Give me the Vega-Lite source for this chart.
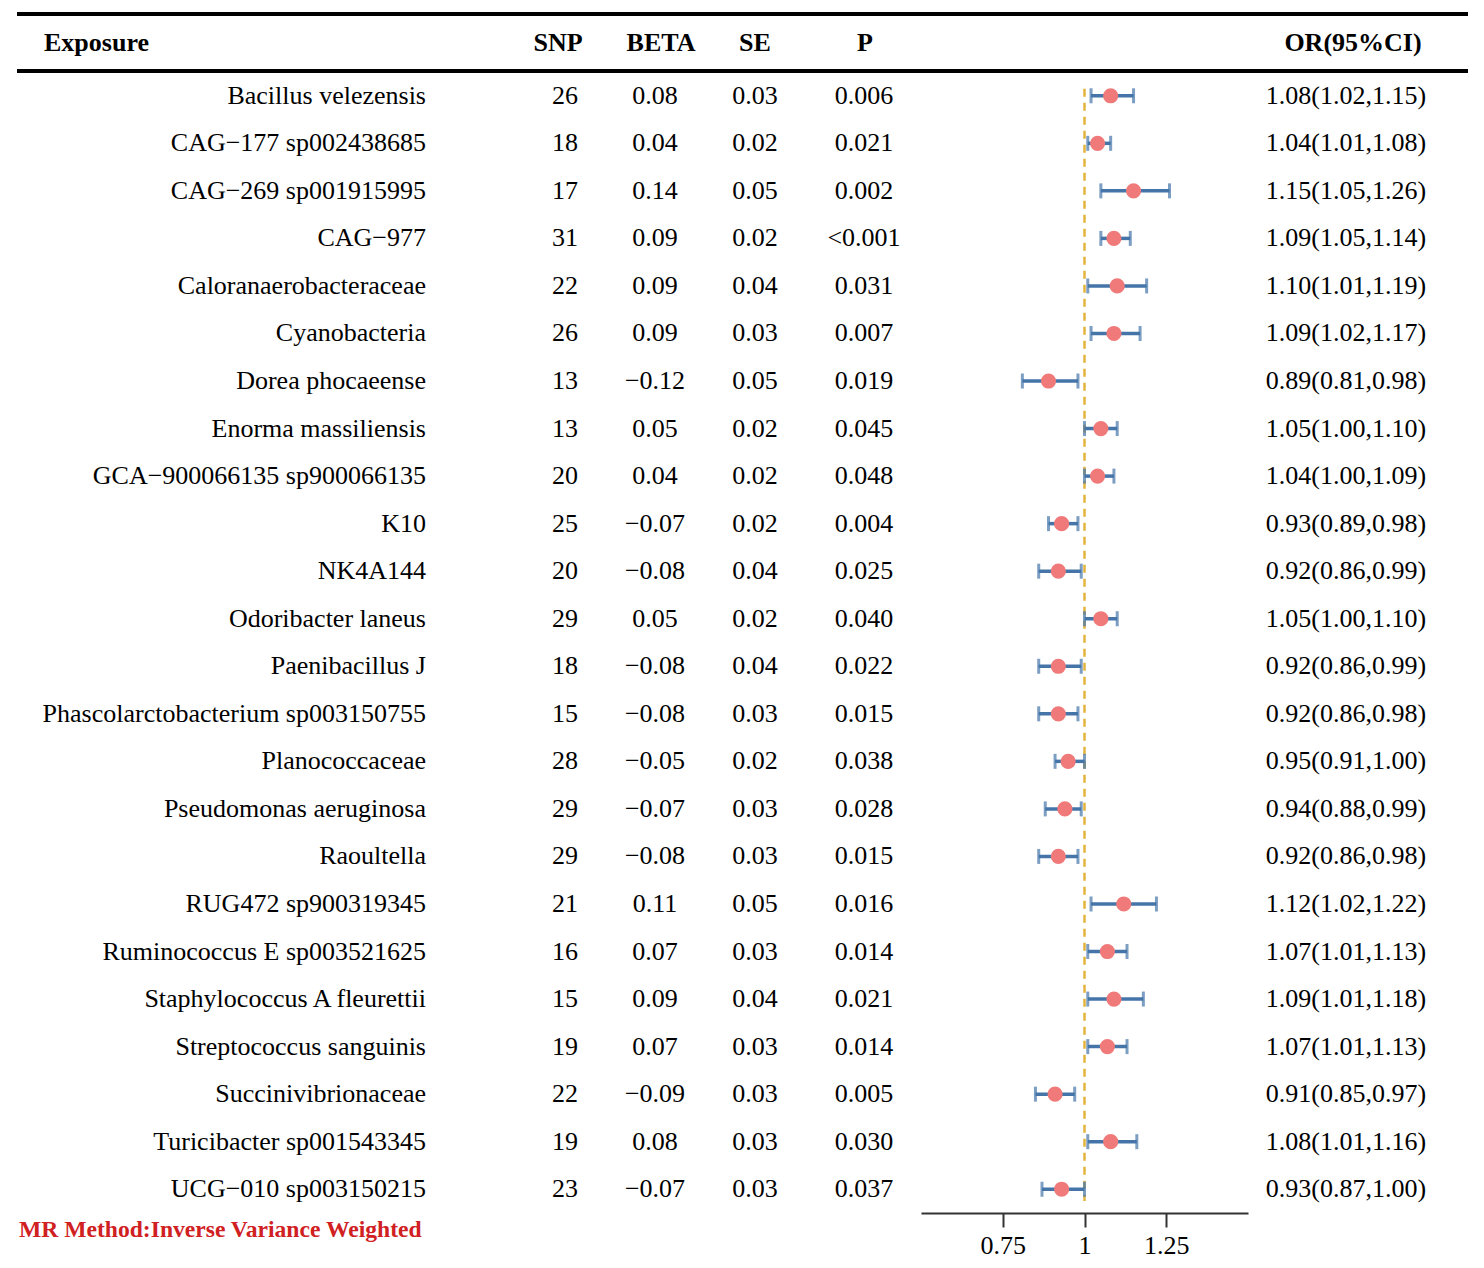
{
  "$schema": "https://vega.github.io/schema/vega-lite/v6.json",
  "width": 1484,
  "height": 1141,
  "padding": {"left": 0, "top": 12, "right": 0, "bottom": 0},
  "background": "white",
  "config": {
    "view": {"stroke": null},
    "text": {"font": "Liberation Serif", "fontSize": 26, "color": "#000000", "baseline": "middle"}
  },
  "data": {
    "values": [
      {"Exposure": "Bacillus velezensis", "SNP": "26", "BETA": "0.08", "SE": "0.03", "P": "0.006", "OR": 1.08, "lo": 1.02, "hi": 1.15, "ORCI": "1.08(1.02,1.15)"},
      {"Exposure": "CAG−177 sp002438685", "SNP": "18", "BETA": "0.04", "SE": "0.02", "P": "0.021", "OR": 1.04, "lo": 1.01, "hi": 1.08, "ORCI": "1.04(1.01,1.08)"},
      {"Exposure": "CAG−269 sp001915995", "SNP": "17", "BETA": "0.14", "SE": "0.05", "P": "0.002", "OR": 1.15, "lo": 1.05, "hi": 1.26, "ORCI": "1.15(1.05,1.26)"},
      {"Exposure": "CAG−977", "SNP": "31", "BETA": "0.09", "SE": "0.02", "P": "<0.001", "OR": 1.09, "lo": 1.05, "hi": 1.14, "ORCI": "1.09(1.05,1.14)"},
      {"Exposure": "Caloranaerobacteraceae", "SNP": "22", "BETA": "0.09", "SE": "0.04", "P": "0.031", "OR": 1.10, "lo": 1.01, "hi": 1.19, "ORCI": "1.10(1.01,1.19)"},
      {"Exposure": "Cyanobacteria", "SNP": "26", "BETA": "0.09", "SE": "0.03", "P": "0.007", "OR": 1.09, "lo": 1.02, "hi": 1.17, "ORCI": "1.09(1.02,1.17)"},
      {"Exposure": "Dorea phocaeense", "SNP": "13", "BETA": "−0.12", "SE": "0.05", "P": "0.019", "OR": 0.89, "lo": 0.81, "hi": 0.98, "ORCI": "0.89(0.81,0.98)"},
      {"Exposure": "Enorma massiliensis", "SNP": "13", "BETA": "0.05", "SE": "0.02", "P": "0.045", "OR": 1.05, "lo": 1.00, "hi": 1.10, "ORCI": "1.05(1.00,1.10)"},
      {"Exposure": "GCA−900066135 sp900066135", "SNP": "20", "BETA": "0.04", "SE": "0.02", "P": "0.048", "OR": 1.04, "lo": 1.00, "hi": 1.09, "ORCI": "1.04(1.00,1.09)"},
      {"Exposure": "K10", "SNP": "25", "BETA": "−0.07", "SE": "0.02", "P": "0.004", "OR": 0.93, "lo": 0.89, "hi": 0.98, "ORCI": "0.93(0.89,0.98)"},
      {"Exposure": "NK4A144", "SNP": "20", "BETA": "−0.08", "SE": "0.04", "P": "0.025", "OR": 0.92, "lo": 0.86, "hi": 0.99, "ORCI": "0.92(0.86,0.99)"},
      {"Exposure": "Odoribacter laneus", "SNP": "29", "BETA": "0.05", "SE": "0.02", "P": "0.040", "OR": 1.05, "lo": 1.00, "hi": 1.10, "ORCI": "1.05(1.00,1.10)"},
      {"Exposure": "Paenibacillus J", "SNP": "18", "BETA": "−0.08", "SE": "0.04", "P": "0.022", "OR": 0.92, "lo": 0.86, "hi": 0.99, "ORCI": "0.92(0.86,0.99)"},
      {"Exposure": "Phascolarctobacterium sp003150755", "SNP": "15", "BETA": "−0.08", "SE": "0.03", "P": "0.015", "OR": 0.92, "lo": 0.86, "hi": 0.98, "ORCI": "0.92(0.86,0.98)"},
      {"Exposure": "Planococcaceae", "SNP": "28", "BETA": "−0.05", "SE": "0.02", "P": "0.038", "OR": 0.95, "lo": 0.91, "hi": 1.00, "ORCI": "0.95(0.91,1.00)"},
      {"Exposure": "Pseudomonas aeruginosa", "SNP": "29", "BETA": "−0.07", "SE": "0.03", "P": "0.028", "OR": 0.94, "lo": 0.88, "hi": 0.99, "ORCI": "0.94(0.88,0.99)"},
      {"Exposure": "Raoultella", "SNP": "29", "BETA": "−0.08", "SE": "0.03", "P": "0.015", "OR": 0.92, "lo": 0.86, "hi": 0.98, "ORCI": "0.92(0.86,0.98)"},
      {"Exposure": "RUG472 sp900319345", "SNP": "21", "BETA": "0.11", "SE": "0.05", "P": "0.016", "OR": 1.12, "lo": 1.02, "hi": 1.22, "ORCI": "1.12(1.02,1.22)"},
      {"Exposure": "Ruminococcus E sp003521625", "SNP": "16", "BETA": "0.07", "SE": "0.03", "P": "0.014", "OR": 1.07, "lo": 1.01, "hi": 1.13, "ORCI": "1.07(1.01,1.13)"},
      {"Exposure": "Staphylococcus A fleurettii", "SNP": "15", "BETA": "0.09", "SE": "0.04", "P": "0.021", "OR": 1.09, "lo": 1.01, "hi": 1.18, "ORCI": "1.09(1.01,1.18)"},
      {"Exposure": "Streptococcus sanguinis", "SNP": "19", "BETA": "0.07", "SE": "0.03", "P": "0.014", "OR": 1.07, "lo": 1.01, "hi": 1.13, "ORCI": "1.07(1.01,1.13)"},
      {"Exposure": "Succinivibrionaceae", "SNP": "22", "BETA": "−0.09", "SE": "0.03", "P": "0.005", "OR": 0.91, "lo": 0.85, "hi": 0.97, "ORCI": "0.91(0.85,0.97)"},
      {"Exposure": "Turicibacter sp001543345", "SNP": "19", "BETA": "0.08", "SE": "0.03", "P": "0.030", "OR": 1.08, "lo": 1.01, "hi": 1.16, "ORCI": "1.08(1.01,1.16)"},
      {"Exposure": "UCG−010 sp003150215", "SNP": "23", "BETA": "−0.07", "SE": "0.03", "P": "0.037", "OR": 0.93, "lo": 0.87, "hi": 1.00, "ORCI": "0.93(0.87,1.00)"}
    ]
  },
  "encoding": {
    "y": {
      "field": "Exposure",
      "type": "nominal",
      "sort": null,
      "scale": {"paddingInner": 0, "paddingOuter": 0},
      "axis": null
    }
  },
  "resolve": {"scale": {"x": "independent"}},
  "layer": [
    {
      "layer": [
        {
          "mark": {"type": "text", "align": "right"},
          "encoding": {
            "x": {"datum": 426, "type": "quantitative", "scale": {"domain": [0, 1484], "nice": false, "zero": false}, "axis": null},
            "text": {"field": "Exposure"}
          }
        },
        {
          "mark": {"type": "text", "align": "center"},
          "encoding": {"x": {"datum": 565, "type": "quantitative"}, "text": {"field": "SNP"}}
        },
        {
          "mark": {"type": "text", "align": "center"},
          "encoding": {"x": {"datum": 655, "type": "quantitative"}, "text": {"field": "BETA"}}
        },
        {
          "mark": {"type": "text", "align": "center"},
          "encoding": {"x": {"datum": 755, "type": "quantitative"}, "text": {"field": "SE"}}
        },
        {
          "mark": {"type": "text", "align": "center"},
          "encoding": {"x": {"datum": 864, "type": "quantitative"}, "text": {"field": "P"}}
        },
        {
          "mark": {"type": "text", "align": "center"},
          "encoding": {"x": {"datum": 1346, "type": "quantitative"}, "text": {"field": "ORCI"}}
        },
        {
          "data": {"values": [{}]},
          "mark": {"type": "text", "align": "left", "fontWeight": "bold", "text": "Exposure", "dy": -53},
          "encoding": {"x": {"datum": 44, "type": "quantitative"}, "y": {"datum": "Bacillus velezensis"}}
        },
        {
          "data": {"values": [{}]},
          "mark": {"type": "text", "align": "center", "fontWeight": "bold", "text": "SNP", "dy": -53},
          "encoding": {"x": {"datum": 558, "type": "quantitative"}, "y": {"datum": "Bacillus velezensis"}}
        },
        {
          "data": {"values": [{}]},
          "mark": {"type": "text", "align": "center", "fontWeight": "bold", "text": "BETA", "dy": -53},
          "encoding": {"x": {"datum": 661, "type": "quantitative"}, "y": {"datum": "Bacillus velezensis"}}
        },
        {
          "data": {"values": [{}]},
          "mark": {"type": "text", "align": "center", "fontWeight": "bold", "text": "SE", "dy": -53},
          "encoding": {"x": {"datum": 755, "type": "quantitative"}, "y": {"datum": "Bacillus velezensis"}}
        },
        {
          "data": {"values": [{}]},
          "mark": {"type": "text", "align": "center", "fontWeight": "bold", "text": "P", "dy": -53},
          "encoding": {"x": {"datum": 865, "type": "quantitative"}, "y": {"datum": "Bacillus velezensis"}}
        },
        {
          "data": {"values": [{}]},
          "mark": {"type": "text", "align": "center", "fontWeight": "bold", "text": "OR(95%CI)", "dy": -53},
          "encoding": {"x": {"datum": 1353, "type": "quantitative"}, "y": {"datum": "Bacillus velezensis"}}
        },
        {
          "data": {"values": [{}]},
          "mark": {"type": "rule", "strokeWidth": 4, "color": "#000000", "yOffset": -58},
          "encoding": {"x": {"datum": 17, "type": "quantitative"}, "x2": {"datum": 1468}, "y": {"datum": "Bacillus velezensis", "bandPosition": 0}}
        },
        {
          "data": {"values": [{}]},
          "mark": {"type": "rule", "strokeWidth": 4, "color": "#000000", "yOffset": -1},
          "encoding": {"x": {"datum": 17, "type": "quantitative"}, "x2": {"datum": 1468}, "y": {"datum": "Bacillus velezensis", "bandPosition": 0}}
        },
        {
          "data": {"values": [{}]},
          "mark": {"type": "text", "align": "left", "fontWeight": "bold", "fontSize": 23.6, "color": "#D0201F", "text": "MR Method:Inverse Variance Weighted", "dy": 41},
          "encoding": {"x": {"datum": 19, "type": "quantitative"}, "y": {"datum": "UCG−010 sp003150215"}}
        }
      ]
    },
    {
      "layer": [
        {
          "data": {"values": [{}]},
          "mark": {"type": "rule", "color": "#E3B43C", "strokeWidth": 2.5, "strokeDash": [8, 6]},
          "encoding": {
            "x": {"datum": 1, "type": "quantitative"},
            "y": {"datum": "Bacillus velezensis", "bandPosition": 0.35},
            "y2": {"datum": "UCG−010 sp003150215", "bandPosition": 0.75}
          }
        },
        {
          "mark": {"type": "rule", "color": "#4575A8", "strokeWidth": 3.5},
          "encoding": {
            "x": {
              "field": "lo",
              "type": "quantitative",
              "scale": {"domain": [0.5, 1.5], "range": [921, 1248], "nice": false, "zero": false},
              "axis": {
                "values": [0.75, 1, 1.25],
                "format": "~g",
                "title": null,
                "grid": false,
                "orient": "bottom",
                "domainColor": "#333333",
                "domainWidth": 2,
                "tickColor": "#333333",
                "tickWidth": 2,
                "tickSize": 14,
                "labelFont": "Liberation Serif",
                "labelFontSize": 26,
                "labelColor": "#000000",
                "labelPadding": 5
              }
            },
            "x2": {"field": "hi"}
          }
        },
        {
          "mark": {"type": "tick", "color": "#4575A8", "thickness": 3, "size": 15},
          "encoding": {"x": {"field": "lo", "type": "quantitative"}}
        },
        {
          "mark": {"type": "tick", "color": "#4575A8", "thickness": 3, "size": 15},
          "encoding": {"x": {"field": "hi", "type": "quantitative"}}
        },
        {
          "mark": {"type": "point", "shape": "circle", "filled": true, "color": "#F07A7A", "opacity": 1, "size": 230},
          "encoding": {"x": {"field": "OR", "type": "quantitative"}}
        }
      ]
    }
  ]
}
